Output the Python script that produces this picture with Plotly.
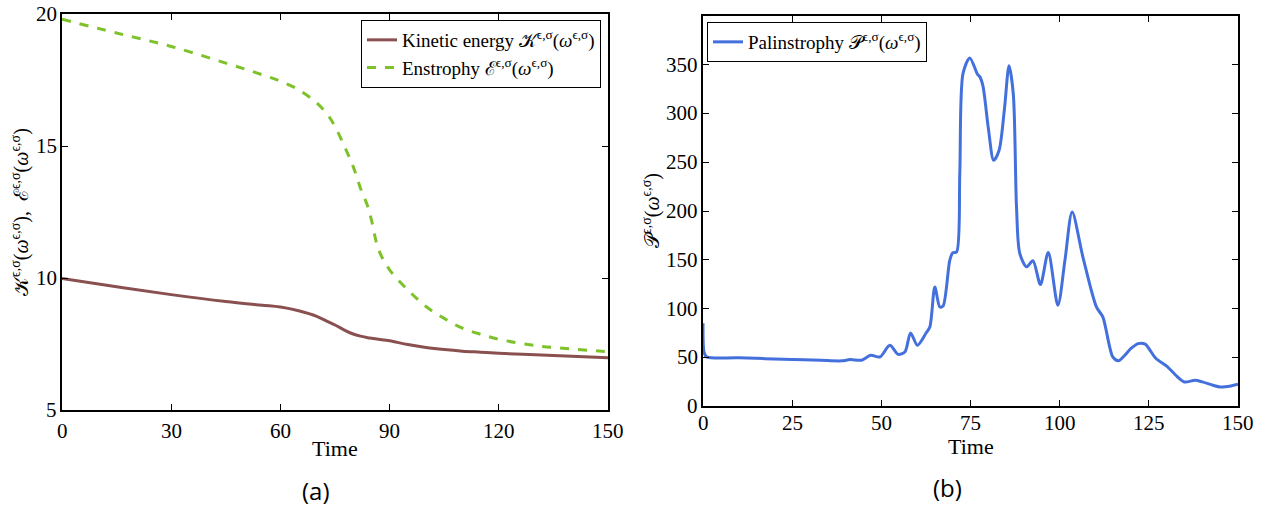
import plotly.graph_objects as go

# ---- data ----
t_a = [0, 15, 30, 45, 55, 60, 65, 70, 73, 75, 78, 80, 82, 84, 85, 87, 90, 95, 100, 105, 110, 115, 120, 130, 140, 150]
kinetic = [9.98, 9.67, 9.37, 9.11, 8.97, 8.90, 8.76, 8.55, 8.35, 8.22, 8.00, 7.88, 7.80, 7.74, 7.72, 7.68, 7.62, 7.48, 7.37, 7.29, 7.23, 7.19, 7.15, 7.09, 7.04, 6.98]
enstrophy = [19.80, 19.28, 18.77, 18.14, 17.70, 17.45, 17.13, 16.63, 16.18, 15.74, 14.86, 14.22, 13.40, 12.71, 12.20, 11.07, 10.31, 9.55, 8.92, 8.47, 8.10, 7.87, 7.68, 7.44, 7.31, 7.21]

t_b = [0, 0.3, 1, 10, 25, 33, 39, 41.2, 44.5, 47, 49.6, 52.4, 54.7, 56.6, 58.2, 60.1, 62.5, 63.6, 65.0, 66.4, 67.3,
       69.2, 70.0, 71.1, 72.0, 72.9, 74.8, 77.0, 77.6, 78.5, 80.0, 81.5, 83.0, 84.5, 85.8, 87.0, 87.9, 88.8, 90.7,
       92.5, 94.6, 96.8, 99.5, 101.5, 103.5, 106.5, 110.3, 112.1, 114.9, 116.5, 118, 120, 122, 124, 125, 127, 130,
       133, 135, 138, 140, 143, 145, 148, 150]
palin = [85, 55, 50.4, 49.4, 47.7, 46.8, 46.3, 47.6, 47.0, 52.0, 50.3, 62.3, 53.0, 55.4, 75.0, 62.3, 74.6, 81.0, 122, 101.6, 102.5,
         149.6, 157, 158, 238.6, 341, 357, 340, 337.8, 328, 285, 252, 262, 304, 349, 320, 204, 156.7, 142.7,
         148.9, 124.6, 157.5, 103.4, 150, 199, 153, 101.6, 91.4, 50.3, 46.3, 51, 59, 64, 63.4, 59, 48.7, 41,
         30, 24.7, 26.4, 24.7, 21.3, 19.5, 20.6, 22.3]

xticks_a = [0, 30, 60, 90, 120, 150]
yticks_a = [5, 10, 15, 20]
xticks_b = [0, 25, 50, 75, 100, 125, 150]
yticks_b = [0, 50, 100, 150, 200, 250, 300, 350]

SERIF = "Liberation Serif"
SUP = "<sup>ϵ,σ</sup>"
W = "<i>ω</i>"
TICK_FONT = dict(family=SERIF, size=21, color="black")

FW, FH = 1270, 509


def px_x(x0, x1):
    return [x0 / FW, x1 / FW]


def px_y(top, bottom):
    return [(FH - bottom) / FH, (FH - top) / FH]


fig = go.Figure()
fig.add_trace(go.Scatter(x=t_a, y=kinetic, mode="lines", line=dict(color="#8a5050", width=3, shape="spline"),
                         name=f"Kinetic energy 𝒦{SUP}({W}{SUP})", xaxis="x", yaxis="y", legend="legend"))
fig.add_trace(go.Scatter(x=t_a, y=enstrophy, mode="lines", line=dict(color="#7dc22b", width=3, dash="dash", shape="spline"),
                         name=f"Enstrophy ℰ{SUP}({W}{SUP})", xaxis="x", yaxis="y", legend="legend"))
fig.add_trace(go.Scatter(x=t_b, y=palin, mode="lines", line=dict(color="#4370dc", width=3, shape="spline", smoothing=0.8),
                         name=f"Palinstrophy 𝒫{SUP}({W}{SUP})", xaxis="x2", yaxis="y2", legend="legend2"))


def axis_style():
    return dict(showline=True, linecolor="black", linewidth=1.5, mirror="ticks", ticks="inside",
                ticklen=6, tickcolor="black", showgrid=False, zeroline=False, showticklabels=False)


fig.update_layout(
    template="none",
    width=FW, height=FH, margin=dict(l=0, r=0, t=0, b=0),
    paper_bgcolor="white", plot_bgcolor="white",
    font=dict(family=SERIF, color="black", size=18),
    xaxis=dict(domain=px_x(62, 608), range=[0, 150], tickvals=xticks_a, anchor="y", **axis_style()),
    yaxis=dict(domain=px_y(14, 410), range=[5, 20], tickvals=yticks_a, anchor="x", **axis_style()),
    xaxis2=dict(domain=px_x(703, 1238), range=[0, 150], tickvals=xticks_b, anchor="y2", **axis_style()),
    yaxis2=dict(domain=px_y(16, 406), range=[0, 400], tickvals=yticks_b, anchor="x2", **axis_style()),
    legend=dict(x=601 / FW, y=(FH - 20) / FH, xanchor="right", yanchor="top", bgcolor="white",
                bordercolor="black", borderwidth=1, font=dict(family=SERIF, size=19),
                tracegroupgap=0, itemwidth=30),
    legend2=dict(x=707 / FW, y=(FH - 22) / FH, xanchor="left", yanchor="top", bgcolor="white",
                 bordercolor="black", borderwidth=1, font=dict(family=SERIF, size=19), itemwidth=30),
    showlegend=True,
)

# tick labels, placed through the axes' own scales
for xa, ya, xt, yt, ys in (("x", "y", xticks_a, yticks_a, -7), ("x2", "y2", xticks_b, yticks_b, -3)):
    for v in xt:
        fig.add_annotation(text=str(v), x=v, xref=xa, y=0, yref=f"{ya} domain", xanchor="center",
                           yanchor="top", yshift=ys, showarrow=False, font=TICK_FONT)
    for v in yt:
        fig.add_annotation(text=str(v), x=0, xref=f"{xa} domain", y=v, yref=ya, xanchor="right",
                           yanchor="middle", xshift=-3, showarrow=False, font=TICK_FONT)

# axis titles
fig.add_annotation(text="Time", x=0.5, xref="x domain", y=0, yref="y domain", yanchor="middle", yshift=-38,
                   showarrow=False, font=dict(family=SERIF, size=22, color="black"))
fig.add_annotation(text="Time", x=0.5, xref="x2 domain", y=0, yref="y2 domain", yanchor="middle", yshift=-40,
                   showarrow=False, font=dict(family=SERIF, size=22, color="black"))
fig.add_annotation(text=f"𝒦{SUP}({W}{SUP}),  ℰ{SUP}({W}{SUP})", x=0, xref="x domain", y=0.5, yref="y domain",
                   xanchor="center", yanchor="middle", xshift=-42, textangle=-90, showarrow=False,
                   font=dict(family=SERIF, size=20, color="black"))
fig.add_annotation(text=f"𝒫{SUP}({W}{SUP})", x=0, xref="x2 domain", y=0.5, yref="y2 domain",
                   xanchor="center", yanchor="middle", xshift=-52, textangle=-90, showarrow=False,
                   font=dict(family=SERIF, size=20, color="black"))

fig.add_annotation(text="(a)", x=316 / FW, y=(FH - 490) / FH, xref="paper", yref="paper",
                   showarrow=False, xanchor="center", yanchor="middle",
                   font=dict(family="Open Sans", size=24, color="black"))
fig.add_annotation(text="(b)", x=947 / FW, y=(FH - 487) / FH, xref="paper", yref="paper",
                   showarrow=False, xanchor="center", yanchor="middle",
                   font=dict(family="Open Sans", size=24, color="black"))

# remove the browser's default page margin so the figure sits at the window origin
fig.write_html("out.html", config={"displayModeBar": False},
               post_script="document.body.style.margin='0';document.body.style.overflow='hidden';")
